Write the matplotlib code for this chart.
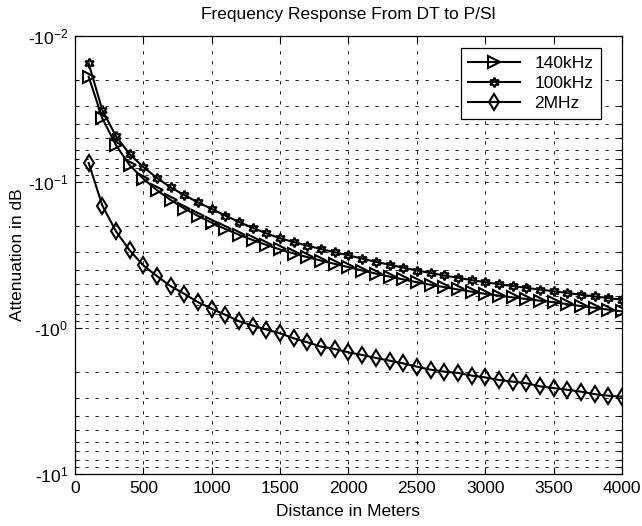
import matplotlib.pyplot as plt
import matplotlib.ticker as mticker
import numpy as np

plt.rcParams['font.family'] = 'Liberation Sans'
plt.rcParams['mathtext.fontset'] = 'custom'
plt.rcParams['mathtext.rm'] = 'Liberation Sans'
plt.rcParams['mathtext.it'] = 'Liberation Sans'

# distance in meters
dist = np.arange(100, 4001, 100)

# attenuation magnitudes (dB, shown as negative on the axis)
att_140k = [0.019, 0.0367, 0.056, 0.0768, 0.095, 0.114, 0.133, 0.152, 0.171, 0.19,
            0.21, 0.23, 0.25, 0.27, 0.29, 0.309, 0.327, 0.346, 0.364, 0.383,
            0.404, 0.424, 0.445, 0.465, 0.486, 0.506, 0.525, 0.545, 0.564, 0.584,
            0.60, 0.617, 0.633, 0.65, 0.666, 0.687, 0.708, 0.728, 0.749, 0.77]
att_100k = [0.0154, 0.0322, 0.0486, 0.0645, 0.079, 0.094, 0.109, 0.123, 0.138, 0.153,
            0.17, 0.188, 0.206, 0.225, 0.243, 0.258, 0.273, 0.288, 0.303, 0.318,
            0.335, 0.352, 0.369, 0.386, 0.404, 0.42, 0.437, 0.453, 0.47, 0.486,
            0.501, 0.516, 0.531, 0.546, 0.56, 0.576, 0.592, 0.608, 0.624, 0.64]
att_2m = [0.074, 0.145, 0.218, 0.294, 0.373, 0.442, 0.517, 0.584, 0.666, 0.739,
          0.813, 0.899, 0.962, 1.025, 1.087, 1.177, 1.253, 1.342, 1.393, 1.469,
          1.53, 1.604, 1.674, 1.747, 1.84, 1.93, 1.99, 2.03, 2.12, 2.18,
          2.27, 2.33, 2.39, 2.51, 2.58, 2.65, 2.73, 2.84, 2.91, 2.96]

fs = 12.5

fig = plt.figure(figsize=(6.42, 5.26), dpi=100)
ax = fig.add_axes([0.1168, 0.0989, 0.852, 0.8327])

ax.plot(dist, att_140k, color='k', lw=1.5, marker='>', ms=8, mfc='none', mew=1.5, label='140kHz')
ax.plot(dist, att_100k, color='k', lw=1.5, marker=(6, 1, 0), ms=7, mfc='none', mew=1.5, label='100kHz')
ax.plot(dist, att_2m, color='k', lw=1.5, marker='d', ms=8, mfc='none', mew=1.5, label='2MHz')

ax.set_yscale('log')
ax.set_ylim(10, 0.01)
ax.set_xlim(0, 4000)
ax.set_xticks(np.arange(0, 4001, 500))
ax.yaxis.set_major_locator(mticker.LogLocator(base=10, numticks=10))
ax.yaxis.set_minor_locator(mticker.LogLocator(base=10, subs=np.arange(2, 10), numticks=20))
ax.yaxis.set_minor_formatter(mticker.NullFormatter())
ax.yaxis.set_major_formatter(mticker.FuncFormatter(lambda v, p: r'-10$^{%d}$' % int(round(np.log10(v)))))

ax.tick_params(which='both', direction='in', top=True, right=True, labelsize=fs, width=0.8)
ax.tick_params(which='major', length=5, pad=5)
ax.tick_params(which='minor', length=3)

gs = dict(color='k', lw=0.6, linestyle=(0, (4, 8)))
ax.grid(True, which='major', **gs)
ax.grid(True, which='minor', axis='y', **gs)

for s in ax.spines.values():
    s.set_linewidth(0.9)

ax.set_title('Frequency Response From DT to P/Sl', fontsize=fs, pad=12)
ax.set_xlabel('Distance in Meters', fontsize=fs, labelpad=6)
ax.set_ylabel('Attenuation in dB', fontsize=fs, labelpad=2)

leg = ax.legend(loc='upper right', fancybox=False, edgecolor='k', framealpha=1,
                fontsize=fs, handlelength=3, handletextpad=0.8, labelspacing=0.3,
                borderaxespad=0, borderpad=0.45, bbox_to_anchor=(0.962, 0.973))
leg.get_frame().set_linewidth(0.9)

fig.savefig('out.png', dpi=100)
